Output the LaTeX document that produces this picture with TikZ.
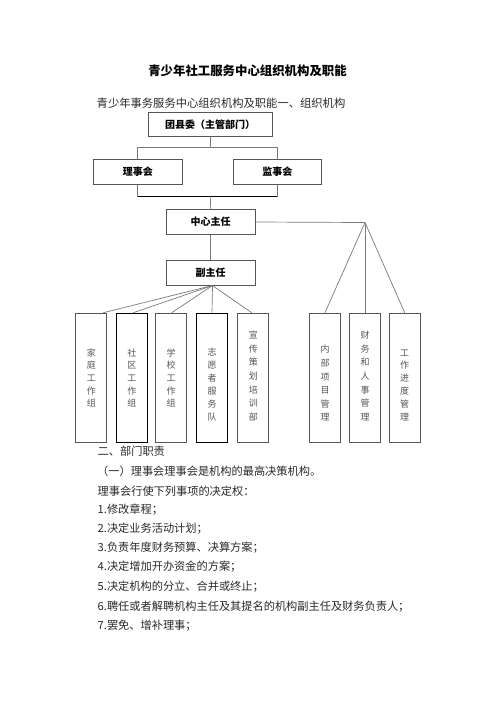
\documentclass[tikz,border=0pt]{standalone}
\usepackage{fontspec}
\setmainfont{Noto Sans CJK SC}
\usetikzlibrary{calc}
\definecolor{ln}{HTML}{7A7A7A}
\definecolor{bd}{HTML}{555555}
\definecolor{tx}{HTML}{2A2A2A}
\tikzset{
  hbox/.style={draw=bd, line width=0.8pt, minimum width=#1, minimum height=24.5pt, inner sep=0pt, font=\fontsize{10}{12}\selectfont\bfseries, text=black},
  vbox/.style={draw=bd, line width=0.7pt, minimum width=31pt, minimum height=129pt, inner sep=0pt, anchor=north},
  vboxk/.style={vbox, draw=black, line width=1.1pt},
  vtext/.style={align=center, font=\fontsize{9}{#1}\selectfont, text=bd, inner sep=0pt},
  conn/.style={draw=ln, line width=0.7pt},
  body/.style={anchor=west, inner sep=0pt, font=\fontsize{11.2}{13}\selectfont, text=tx},
}
\begin{document}
\begin{tikzpicture}[x=1pt,y=-1pt]
\useasboundingbox[fill=white] (0,0) rectangle (496,702);
% titles
\node[inner sep=0pt, font=\fontsize{12.4}{14}\selectfont\bfseries] (title) at (247.5,71) {青少年社工服务中心组织机构及职能};
\node[body, font=\fontsize{11.3}{13}\selectfont] (sub) at (96.5,103.5) {青少年事务服务中心组织机构及职能一、组织机构};
% top boxes
\node[hbox=124pt] (tx) at (210,124.5) {团县委（主管部门）};
\node[hbox=89pt] (lsh) at (137.8,172) {理事会};
\node[hbox=88pt] (jsh) at (277.3,172) {监事会};
\node[hbox=89pt] (zr) at (210.7,222) {中心主任};
\node[hbox=89pt] (fzr) at (210.7,272.7) {副主任};
% vertical boxes
\node[vbox] (b1) at (91.3,312.7) {};
\node[vboxk] (b2) at (131.8,312.7) {};
\node[vbox] (b3) at (171.2,312.7) {};
\node[vboxk] (b4) at (212,312.7) {};
\node[vbox] (b5) at (253.3,312.7) {};
\node[vbox] (b6) at (325,312.7) {};
\node[vbox] (b7) at (365,312.7) {};
\node[vbox] (b8) at (404.7,312.7) {};
\node[vtext=12.65] (t1) at (91.3,378) {家\\庭\\工\\作\\组};
\node[vtext=12.65] (t2) at (131.8,378) {社\\区\\工\\作\\组};
\node[vtext=12.65] (t3) at (171.2,378) {学\\校\\工\\作\\组};
\node[vtext=13] (t4) at (212,384.3) {志\\愿\\者\\服\\务\\队};
\node[vtext=13.7] (t5) at (253.3,376) {宣\\传\\策\\划\\培\\训\\部};
\node[vtext=13.6] (t6) at (325,383.3) {内\\部\\项\\目\\管\\理};
\node[vtext=13.7] (t7) at (365,376) {财\\务\\和\\人\\事\\管\\理};
\node[vtext=12.8] (t8) at (404.7,385) {工\\作\\进\\度\\管\\理};
% connectors
\coordinate (c1) at (210,147.3);
\draw[conn] (tx.south) -- (c1);
\draw[conn] (lsh.north) |- (c1) -| (jsh.north);
\coordinate (c2) at (210.3,196);
\draw[conn] (lsh.south) |- (c2);
\draw[conn] (jsh.south) |- (c2);
\draw[black, line width=1pt] (lsh.south |- c2) -- (jsh.south |- c2);
\draw[conn] (c2) -- (zr.north);
\draw[conn] (zr.south) -- (fzr.north);
\coordinate (apex) at (365,222.5);
\draw[conn] (zr.east) -- (apex);
\draw[conn] (apex) -- (b6.north);
\draw[conn] (apex) -- (b7.north);
\draw[conn] (apex) -- (b8.north);
\coordinate (fb) at (212.5,285.5);
\draw[conn] (fb) -- ([xshift=12pt]b1.north);
\draw[conn] (fb) -- ([xshift=1.5pt]b2.north);
\draw[conn] (fb) -- ([xshift=0.5pt]b3.north);
\draw[conn] (fb) -- (b4.north);
\draw[conn] (fb) -- ([xshift=-1.6pt]b5.north);
% body text
\node[body] (l0) at (97.5,451.7) {二、部门职责};
\node[body] (l1) at (97,471.5) {（一）理事会理事会是机构的最高决策机构。};
\node[body] (l2) at (97.5,491) {理事会行使下列事项的决定权：};
\node[body] (l3) at (97.5,510) {1.修改章程；};
\node[body] (l4) at (97.5,529) {2.决定业务活动计划；};
\node[body] (l5) at (97.5,547.5) {3.负责年度财务预算、决算方案；};
\node[body] (l6) at (97.5,566.7) {4.决定增加开办资金的方案；};
\node[body] (l7) at (97.5,586.5) {5.决定机构的分立、合并或终止；};
\node[body] (l8) at (97.5,606.5) {6.聘任或者解聘机构主任及其提名的机构副主任及财务负责人；};
\node[body] (l9) at (97.5,626) {7.罢免、增补理事；};
\end{tikzpicture}
\end{document}
